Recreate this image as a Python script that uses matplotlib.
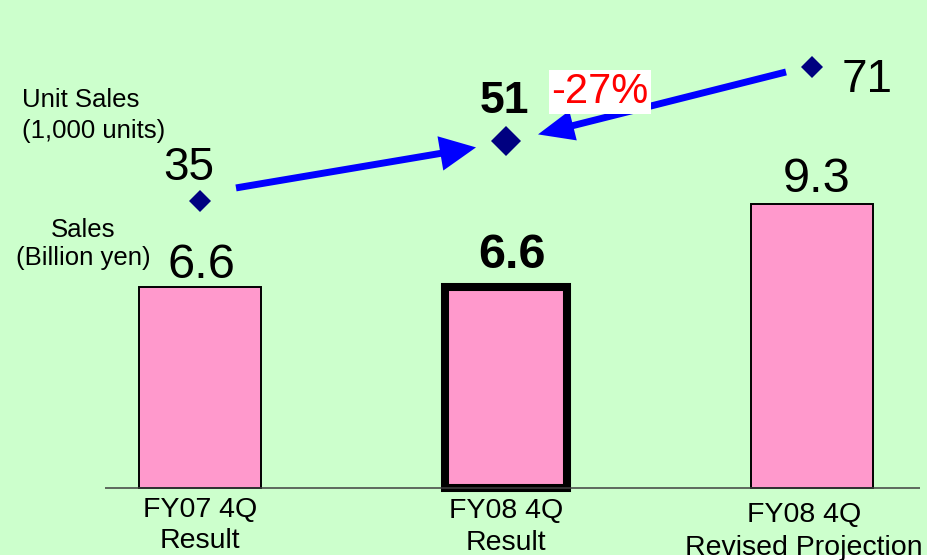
import matplotlib
matplotlib.use("Agg")
import matplotlib.pyplot as plt
from matplotlib.patches import Rectangle
from matplotlib.transforms import offset_copy

# ---- data -------------------------------------------------------------
categories = ["FY07 4Q\nResult", "FY08 4Q\nResult", "FY08 4Q\nRevised Projection"]
sales = [6.6, 6.6, 9.3]          # Sales (billion yen)
unit_sales = [35, 51, 71]        # Unit sales (1,000 units)
change_label = "-27%"
highlight = 1                    # emphasised quarter

# ---- style ------------------------------------------------------------
BG = "#CCFFCC"
BAR = "#FF99CC"
NAVY = "#000080"
BLUE = "#0000FF"
W, H = 928, 560

plt.rcParams["font.family"] = ["Liberation Sans", "DejaVu Sans"]

fig = plt.figure(figsize=(W / 100, H / 100), dpi=100, facecolor="white")
fig.patches.append(Rectangle((0, 5 / H), 1, 1, transform=fig.transFigure,
                             facecolor=BG, edgecolor="none", zorder=-10))

ax = fig.add_axes([0, 0, 1, 1])
ax.set_facecolor("none")
ax2 = ax.twinx()
ax2.set_facecolor("none")
for a in (ax, ax2):
    a.axis("off")

ax.set_xlim(-0.6536, 2.379)
ax.set_ylim(-2.36, 16.0)
ax2.set_ylim(-61.5, 89.0)

x = list(range(len(categories)))

# ---- sales bars ---------------------------------------------------------
lws = [5.8 if i == highlight else 1.4 for i in x]
bars = ax.bar(x, sales, width=0.40, color=BAR, edgecolor="black",
              linewidth=lws, zorder=2)
for b in bars:
    b.set_joinstyle("miter")
ax.hlines(0, -0.31, 2.353, color="#404040", lw=1.1, zorder=3)

val_offsets = [(1, 9), (6, 19), (5, 12)]
for i, v in enumerate(sales):
    dx, dy = val_offsets[i]
    ax.annotate(f"{v:.1f}", xy=(i, v), xytext=(dx, dy), textcoords="offset pixels",
                ha="center", va="baseline", fontsize=35,
                fontweight="bold" if i == highlight else "normal", color="black")

# ---- category labels ---------------------------------------------------
label_offsets = [(0, -29, -60), (0, -30, -62), (-8, -34, -67)]
for i, lab in enumerate(categories):
    dx, dy1, dy2 = label_offsets[i]
    for line, dy in zip(lab.split("\n"), (dy1, dy2)):
        ax.annotate(line, xy=(i, 0), xytext=(dx, dy), textcoords="offset pixels",
                    ha="center", va="baseline", fontsize=20.5, color="black")

# ---- unit sales diamonds -------------------------------------------------
for i, u in enumerate(unit_sales):
    ms = 15.3 if i == highlight else 11.2
    ax2.plot(i, u, ls="none", marker="D", ms=ms, mew=0, color=NAVY, zorder=5)

unit_text = [((-11, 21), "center", 33), ((-2, 28), "center", 32), ((30, -25), "left", 33)]
for i, u in enumerate(unit_sales):
    (dx, dy), ha, fs = unit_text[i]
    ax2.annotate(f"{u}", xy=(i, u), xytext=(dx, dy), textcoords="offset pixels",
                 ha=ha, va="baseline", fontsize=fs,
                 fontweight="bold" if i == highlight else "normal", color="black")

# ---- arrows between quarters ---------------------------------------------
def off(dx, dy):
    return offset_copy(ax2.transData, x=dx, y=dy, units="dots")

ax2.annotate("", xy=(1, unit_sales[1]), xycoords=off(-30, -6),
             xytext=(0, unit_sales[0]), textcoords=off(36, 13),
             arrowprops=dict(arrowstyle="simple,head_length=26,head_width=25,tail_width=5",
                             mutation_scale=1, shrinkA=0, shrinkB=0,
                             fc=BLUE, ec="none"), zorder=4)
ax2.annotate("", xy=(1, unit_sales[1]), xycoords=off(32, 7),
             xytext=(2, unit_sales[2]), textcoords=off(-26, -5),
             arrowprops=dict(arrowstyle="simple,head_length=26,head_width=22,tail_width=5",
                             mutation_scale=1, shrinkA=0, shrinkB=0,
                             fc=BLUE, ec="none"), zorder=4)

ax2.annotate(change_label, xy=(1, unit_sales[1]), xytext=(94, 49),
             textcoords="offset pixels", ha="center", va="center",
             fontsize=30, color="#FF0000", zorder=6,
             bbox=dict(boxstyle="square,pad=0.05", fc="white", ec="none"))

# ---- axis captions ----------------------------------------------------
fig.text(22 / W, 1 - 107 / H, "Unit Sales", ha="left", va="baseline", fontsize=18.5)
fig.text(22 / W, 1 - 138 / H, "(1,000 units)", ha="left", va="baseline", fontsize=18.5)
fig.text(83 / W, 1 - 237 / H, "Sales", ha="center", va="baseline", fontsize=18.5)
fig.text(83 / W, 1 - 265 / H, "(Billion yen)", ha="center", va="baseline", fontsize=18.5)

fig.savefig("out.png", dpi=100, facecolor=fig.get_facecolor())
